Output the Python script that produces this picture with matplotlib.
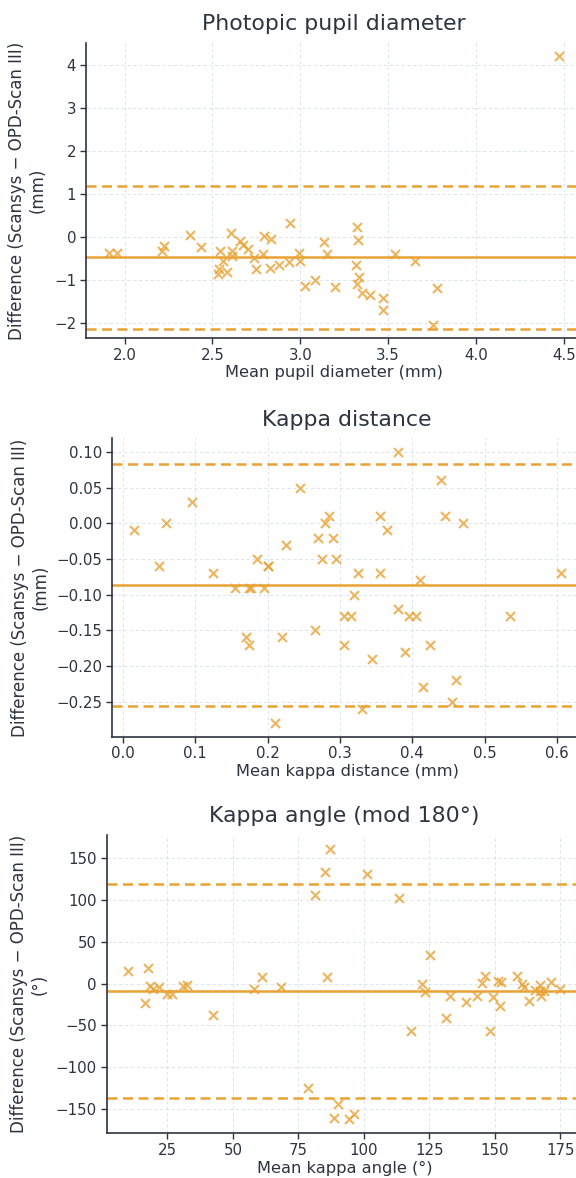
import numpy as np
import matplotlib
matplotlib.use("Agg")
import matplotlib.pyplot as plt
from matplotlib.ticker import MultipleLocator

# Photopic pupil diameter: mean (mm) vs difference (mm)
pupil_mean = [4.474, 1.909, 1.956, 2.212, 2.222, 2.370, 2.434, 2.544, 2.535, 2.531,
              2.582, 2.560, 2.610, 2.605, 2.612, 2.654, 2.673, 2.705, 2.734, 2.747,
              2.790, 2.796, 2.825, 2.834, 2.876, 2.933, 2.942, 2.995, 2.999, 3.024,
              3.085, 3.132, 3.151, 3.198, 3.320, 3.327, 3.318, 3.335, 3.325, 3.350,
              3.394, 3.473, 3.469, 3.540, 3.653, 3.752, 3.780]
pupil_diff = [4.20, -0.37, -0.37, -0.33, -0.21, 0.05, -0.23, -0.31, -0.75, -0.86,
              -0.82, -0.56, -0.31, 0.09, -0.43, -0.08, -0.18, -0.27, -0.48, -0.73,
              -0.38, 0.03, -0.71, -0.05, -0.65, -0.57, 0.32, -0.37, -0.56, -1.13,
              -0.99, -0.12, -0.38, -1.15, 0.23, -0.06, -0.65, -0.92, -1.09, -1.30,
              -1.34, -1.41, -1.70, -0.40, -0.56, -2.03, -1.19]
pupil_bias, pupil_loa = -0.466, (1.19, -2.13)

# Kappa distance: mean (mm) vs difference (mm)
kdist_mean = [0.015, 0.050, 0.060, 0.095, 0.125, 0.155, 0.170, 0.175, 0.177, 0.175,
              0.185, 0.195, 0.200, 0.201, 0.210, 0.220, 0.225, 0.245, 0.265, 0.270,
              0.275, 0.280, 0.285, 0.290, 0.295, 0.305, 0.315, 0.305, 0.320, 0.325,
              0.330, 0.345, 0.355, 0.355, 0.365, 0.380, 0.380, 0.390, 0.395, 0.405,
              0.410, 0.415, 0.425, 0.440, 0.445, 0.455, 0.460, 0.470, 0.535, 0.605]
kdist_diff = [-0.01, -0.06, 0.00, 0.03, -0.07, -0.09, -0.16, -0.09, -0.09, -0.17,
              -0.05, -0.09, -0.06, -0.06, -0.28, -0.16, -0.03, 0.05, -0.15, -0.02,
              -0.05, 0.00, 0.01, -0.02, -0.05, -0.13, -0.13, -0.17, -0.10, -0.07,
              -0.26, -0.19, 0.01, -0.07, -0.01, 0.10, -0.12, -0.18, -0.13, -0.13,
              -0.08, -0.23, -0.17, 0.06, 0.01, -0.25, -0.22, 0.00, -0.13, -0.07]
kdist_bias, kdist_loa = -0.086, (0.0836, -0.2556)

# Kappa angle (mod 180): mean (deg) vs difference (deg)
kang_mean = [10.1, 17.6, 16.6, 18.4, 19.7, 21.9, 24.7, 26.7, 31.1, 32.4,
             42.6, 58.1, 61.2, 68.5, 78.6, 81.5, 85.0, 87.1, 86.1, 88.7,
             90.1, 94.3, 96.1, 101.2, 113.6, 118.1, 122.0, 123.2, 125.1, 131.5,
             133.0, 139.1, 143.2, 145.2, 146.1, 148.0, 149.3, 151.1, 152.3, 152.1,
             158.6, 160.4, 161.3, 162.9, 165.5, 167.4, 167.7, 168.6, 167.4, 171.4,
             175.0]
kang_diff = [15.5, 18.7, -23.4, -2.4, -6.3, -4.4, -12.3, -12.3, -3.2, -1.2,
             -37.3, -6.3, 7.9, -3.6, -124.6, 106.3, 133.7, 161.5, 7.9, -161.1,
             -143.7, -162.3, -156.0, 131.3, 102.4, -56.3, -0.4, -10.3, 34.1, -41.3,
             -14.3, -22.2, -14.3, 0.8, 9.5, -56.3, -15.5, 3.6, 1.6, -26.2,
             8.7, -0.4, -3.6, -20.2, -7.1, -1.6, -14.3, -8.3, -8.3, 1.6,
             -6.3]
kang_bias, kang_loa = -8.7, (119.4, -136.1)

panels = [
    ("Photopic pupil diameter", "Mean pupil diameter (mm)", "(mm)",
     pupil_mean, pupil_diff, pupil_bias, pupil_loa, 0.5, 1.0,
     [0.1493, 0.7131, 0.8611, 0.2504]),
    ("Kappa distance", "Mean kappa distance (mm)", "(mm)",
     kdist_mean, kdist_diff, kdist_bias, kdist_loa, 0.1, 0.05,
     [0.1950, 0.3746, 0.8154, 0.2533]),
    ("Kappa angle (mod 180\u00b0)", "Mean kappa angle (\u00b0)", "(\u00b0)",
     kang_mean, kang_diff, kang_bias, kang_loa, 25, 50,
     [0.1852, 0.0382, 0.8252, 0.2530]),
]

text_color = "#2d3440"
orange = "#E8A235"

plt.rcParams['font.family'] = ['DejaVu Sans']
fig = plt.figure(figsize=(5.76, 11.78), dpi=100)

for title, xlabel, unit, xs, ys, bias, loa, xstep, ystep, pos in panels:
    ax = fig.add_axes(pos)
    ax.scatter(xs, ys, marker='x', s=42, color=orange, alpha=0.8, linewidths=1.5, zorder=3)
    ax.axhline(bias, color=orange, lw=1.8, zorder=2)
    for v in loa:
        ax.axhline(v, color=orange, lw=1.8, ls=(0, (4, 2.2)), zorder=2)
    ax.xaxis.set_major_locator(MultipleLocator(xstep))
    ax.yaxis.set_major_locator(MultipleLocator(ystep))
    ax.set_title(title, fontsize=15.8, color=text_color, pad=9)
    ax.set_xlabel(xlabel, fontsize=11.7, color=text_color, labelpad=2)
    ax.set_ylabel("Difference (Scansys \u2212 OPD-Scan III)\n" + unit,
                  fontsize=12, color=text_color, labelpad=5)
    ax.grid(True, ls=(0, (4, 3)), lw=0.6, color="#d8e0ec", zorder=0)
    ax.set_axisbelow(True)
    for s in ['top', 'right']:
        ax.spines[s].set_visible(False)
    for s in ['left', 'bottom']:
        ax.spines[s].set_color(text_color)
        ax.spines[s].set_linewidth(1.2)
    ax.tick_params(labelsize=10.8, colors=text_color, length=4, width=1, pad=3)

fig.savefig("out.png", dpi=100, facecolor="white")
